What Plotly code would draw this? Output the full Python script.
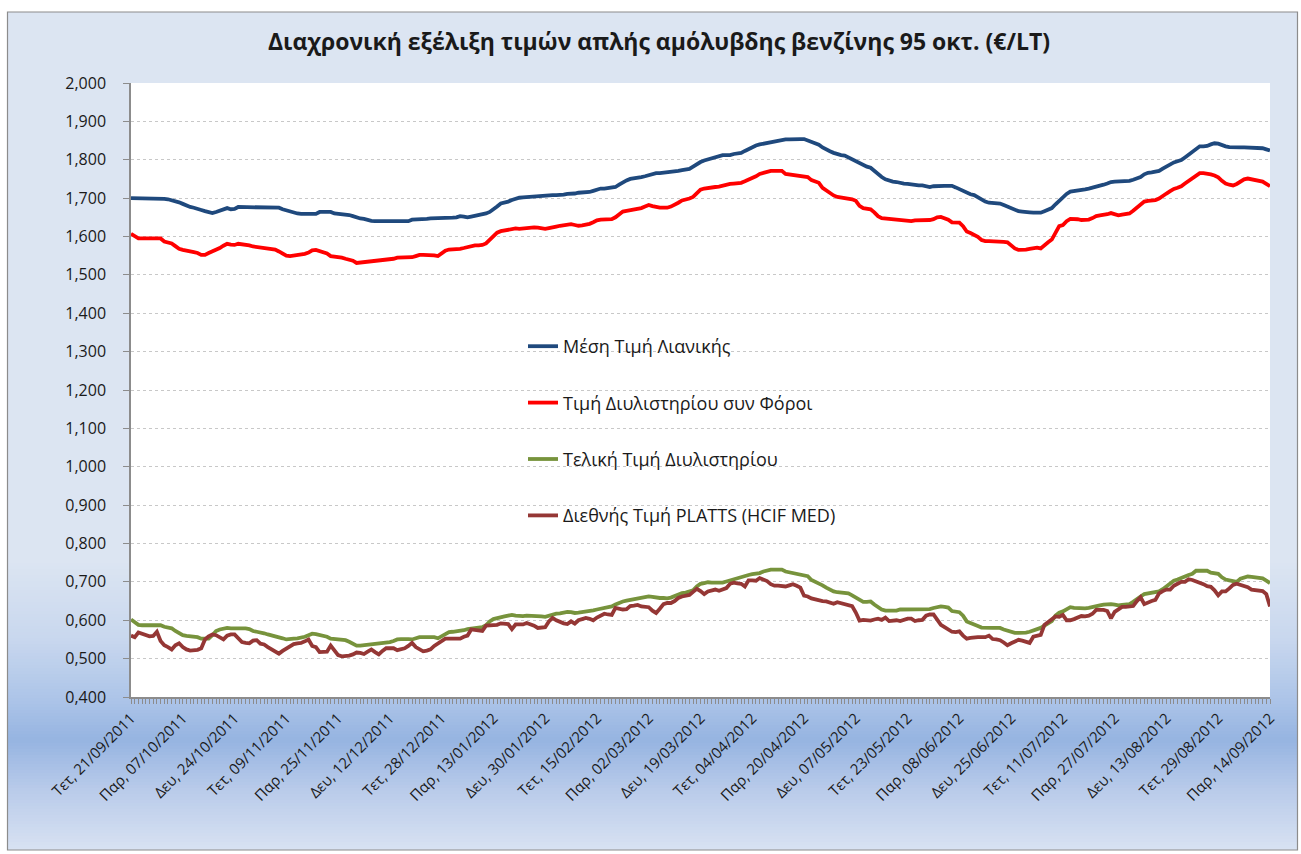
import pandas as pd
import plotly.graph_objects as go

# ---------------- DATA ----------------
start_date = "2011-09-21"
end_date = "2012-09-14"
greek_days = ["Δευ", "Τρι", "Τετ", "Πεμ", "Παρ", "Σαβ", "Κυρ"]
dates = pd.bdate_range(start_date, end_date, freq="C", weekmask="Mon Tue Wed Thu Fri Sat")
categories = [f"{greek_days[d.weekday()]}, {d:%d/%m/%Y}" for d in dates]
label_step = 14

retail = [
1.700,1.700,1.700,1.700,1.700,1.698,1.698,
1.698,1.698,1.698,1.697,1.695,1.692,1.689,
1.685,1.680,1.677,1.675,1.673,1.669,1.666,
1.663,1.661,1.664,1.667,1.670,1.674,1.671,
1.672,1.677,1.677,1.677,1.677,1.677,1.677,
1.677,1.677,1.677,1.677,1.677,1.675,1.671,
1.668,1.664,1.661,1.660,1.659,1.659,1.659,
1.659,1.659,1.664,1.664,1.664,1.664,1.660,
1.659,1.659,1.658,1.656,1.653,1.649,1.647,
1.646,1.643,1.641,1.640,1.640,1.640,1.640,
1.640,1.640,1.640,1.640,1.640,1.640,1.644,
1.644,1.644,1.646,1.646,1.647,1.647,1.647,
1.647,1.648,1.649,1.649,1.650,1.653,1.652,
1.650,1.652,1.654,1.655,1.656,1.660,1.664,
1.670,1.678,1.686,1.688,1.691,1.695,1.699,
1.701,1.702,1.703,1.704,1.705,1.706,1.707,
1.707,1.708,1.708,1.708,1.708,1.709,1.711,
1.711,1.712,1.714,1.714,1.715,1.716,1.719,
1.723,1.725,1.725,1.726,1.726,1.729,1.735,
1.741,1.746,1.750,1.751,1.753,1.755,1.757,
1.760,1.764,1.765,1.765,1.766,1.766,1.768,
1.769,1.771,1.773,1.774,1.776,1.782,1.789,
1.794,1.798,1.801,1.803,1.805,1.809,1.812,
1.812,1.812,1.815,1.816,1.818,1.823,1.828,
1.832,1.837,1.840,1.842,1.844,1.847,1.849,
1.850,1.851,1.853,1.853,1.854,1.854,1.854,
1.854,1.850,1.845,1.842,1.839,1.832,1.826,
1.822,1.818,1.814,1.812,1.811,1.806,1.802,
1.796,1.791,1.785,1.782,1.779,1.770,1.762,
1.755,1.749,1.745,1.743,1.742,1.739,1.738,
1.737,1.735,1.733,1.733,1.733,1.731,1.729,
1.731,1.732,1.732,1.732,1.732,1.732,1.728,
1.723,1.718,1.713,1.710,1.708,1.702,1.696,
1.691,1.688,1.687,1.686,1.686,1.682,1.678,
1.674,1.670,1.666,1.665,1.665,1.663,1.662,
1.662,1.662,1.666,1.670,1.674,1.684,1.694,
1.702,1.711,1.717,1.718,1.719,1.721,1.723,
1.725,1.727,1.730,1.732,1.735,1.738,1.742,
1.743,1.743,1.743,1.744,1.745,1.748,1.752,
1.755,1.762,1.766,1.767,1.768,1.771,1.777,
1.783,1.788,1.793,1.796,1.799,1.806,1.814,
1.821,1.829,1.835,1.835,1.836,1.840,1.843,
1.842,1.838,1.835,1.833,1.832,1.832,1.832,
1.832,1.832,1.832,1.832,1.832,1.830,1.827,
1.824]

refinery_tax = [
1.607,1.600,1.595,1.595,1.595,1.595,1.595,
1.595,1.595,1.587,1.584,1.582,1.575,1.568,
1.565,1.562,1.561,1.559,1.557,1.552,1.552,
1.557,1.561,1.565,1.570,1.576,1.581,1.579,
1.578,1.581,1.580,1.578,1.577,1.574,1.573,
1.572,1.570,1.568,1.567,1.566,1.561,1.555,
1.550,1.549,1.550,1.551,1.552,1.555,1.558,
1.564,1.565,1.562,1.559,1.556,1.549,1.548,
1.547,1.545,1.542,1.540,1.537,1.531,1.532,
1.534,1.535,1.535,1.536,1.537,1.538,1.538,
1.540,1.542,1.545,1.545,1.546,1.546,1.546,
1.549,1.552,1.552,1.552,1.551,1.551,1.549,
1.556,1.563,1.566,1.566,1.567,1.568,1.570,
1.573,1.576,1.577,1.577,1.578,1.582,1.592,
1.603,1.610,1.614,1.616,1.618,1.621,1.621,
1.620,1.621,1.623,1.623,1.624,1.623,1.621,
1.620,1.622,1.625,1.626,1.628,1.630,1.632,
1.632,1.630,1.628,1.629,1.630,1.633,1.637,
1.642,1.644,1.644,1.644,1.645,1.650,1.658,
1.665,1.667,1.669,1.670,1.671,1.674,1.678,
1.682,1.679,1.676,1.675,1.675,1.675,1.678,
1.682,1.688,1.694,1.696,1.699,1.703,1.714,
1.722,1.725,1.727,1.728,1.729,1.730,1.733,
1.736,1.737,1.738,1.739,1.740,1.744,1.748,
1.753,1.757,1.763,1.766,1.769,1.771,1.771,
1.771,1.771,1.763,1.762,1.760,1.759,1.758,
1.757,1.755,1.747,1.744,1.740,1.727,1.720,
1.714,1.707,1.703,1.702,1.701,1.700,1.697,
1.693,1.680,1.674,1.673,1.671,1.663,1.653,
1.648,1.647,1.645,1.645,1.644,1.642,1.640,
1.639,1.640,1.642,1.642,1.642,1.643,1.643,
1.645,1.650,1.651,1.648,1.644,1.637,1.636,
1.636,1.627,1.613,1.609,1.605,1.599,1.591,
1.588,1.588,1.588,1.588,1.587,1.586,1.585,
1.577,1.569,1.565,1.565,1.566,1.568,1.569,
1.571,1.569,1.578,1.585,1.592,1.611,1.627,
1.630,1.640,1.646,1.646,1.645,1.643,1.643,
1.644,1.648,1.653,1.655,1.656,1.658,1.661,
1.658,1.655,1.657,1.658,1.660,1.667,1.676,
1.685,1.691,1.693,1.694,1.695,1.699,1.707,
1.712,1.718,1.724,1.727,1.731,1.738,1.745,
1.752,1.758,1.765,1.765,1.764,1.762,1.759,
1.754,1.745,1.738,1.735,1.733,1.737,1.742,
1.749,1.751,1.749,1.748,1.747,1.743,1.737,
1.731]

refinery_final = [
0.602,0.595,0.588,0.587,0.587,0.587,0.587,
0.587,0.587,0.583,0.581,0.579,0.572,0.565,
0.561,0.559,0.558,0.557,0.556,0.552,0.552,
0.552,0.561,0.572,0.576,0.579,0.580,0.579,
0.579,0.580,0.580,0.579,0.577,0.572,0.570,
0.569,0.566,0.563,0.561,0.559,0.556,0.553,
0.550,0.550,0.552,0.553,0.554,0.557,0.561,
0.565,0.564,0.562,0.560,0.557,0.552,0.551,
0.550,0.549,0.548,0.544,0.540,0.534,0.534,
0.535,0.537,0.539,0.539,0.539,0.540,0.541,
0.543,0.546,0.550,0.551,0.552,0.551,0.550,
0.553,0.556,0.556,0.556,0.556,0.556,0.553,
0.558,0.565,0.569,0.570,0.571,0.572,0.574,
0.577,0.578,0.580,0.581,0.582,0.587,0.597,
0.603,0.606,0.609,0.610,0.612,0.614,0.612,
0.611,0.611,0.612,0.612,0.612,0.611,0.610,
0.609,0.612,0.616,0.617,0.618,0.620,0.622,
0.621,0.619,0.620,0.621,0.622,0.624,0.626,
0.628,0.630,0.631,0.633,0.636,0.641,0.646,
0.649,0.651,0.653,0.655,0.656,0.658,0.660,
0.662,0.661,0.659,0.658,0.658,0.657,0.659,
0.663,0.667,0.671,0.672,0.674,0.678,0.688,
0.695,0.697,0.699,0.698,0.698,0.696,0.698,
0.701,0.704,0.708,0.710,0.713,0.716,0.718,
0.720,0.721,0.723,0.727,0.730,0.732,0.732,
0.732,0.732,0.727,0.725,0.723,0.720,0.718,
0.717,0.715,0.705,0.701,0.697,0.691,0.685,
0.679,0.675,0.673,0.672,0.671,0.670,0.665,
0.659,0.654,0.648,0.648,0.649,0.641,0.633,
0.628,0.625,0.625,0.625,0.625,0.628,0.628,
0.627,0.628,0.629,0.629,0.629,0.629,0.629,
0.632,0.635,0.636,0.635,0.633,0.624,0.622,
0.621,0.612,0.597,0.593,0.590,0.585,0.581,
0.580,0.580,0.580,0.580,0.580,0.576,0.573,
0.569,0.567,0.567,0.567,0.568,0.570,0.573,
0.577,0.580,0.586,0.592,0.598,0.612,0.620,
0.623,0.630,0.634,0.632,0.631,0.630,0.631,
0.632,0.635,0.638,0.639,0.641,0.642,0.642,
0.641,0.639,0.640,0.641,0.642,0.648,0.656,
0.662,0.668,0.670,0.671,0.673,0.675,0.681,
0.688,0.696,0.703,0.706,0.709,0.714,0.718,
0.721,0.729,0.729,0.729,0.729,0.724,0.722,
0.721,0.712,0.706,0.704,0.703,0.700,0.708,
0.712,0.714,0.713,0.712,0.712,0.709,0.703,
0.697]

platts = [
0.560,0.556,0.568,0.564,0.560,0.558,0.559,
0.570,0.546,0.535,0.530,0.524,0.535,0.540,
0.530,0.524,0.521,0.522,0.523,0.527,0.550,
0.558,0.563,0.561,0.556,0.550,0.560,0.563,
0.563,0.552,0.543,0.541,0.540,0.547,0.548,
0.539,0.537,0.530,0.525,0.520,0.513,0.520,
0.526,0.530,0.538,0.540,0.541,0.545,0.550,
0.533,0.530,0.517,0.517,0.518,0.534,0.520,
0.509,0.506,0.506,0.508,0.511,0.516,0.515,
0.512,0.518,0.524,0.517,0.511,0.520,0.527,
0.527,0.527,0.522,0.524,0.527,0.533,0.541,
0.530,0.525,0.519,0.521,0.524,0.533,0.540,
0.546,0.552,0.552,0.552,0.552,0.552,0.557,
0.560,0.576,0.574,0.573,0.572,0.586,0.587,
0.587,0.588,0.592,0.591,0.590,0.577,0.589,
0.589,0.589,0.593,0.590,0.586,0.580,0.581,
0.582,0.597,0.606,0.600,0.595,0.592,0.590,
0.597,0.591,0.600,0.603,0.606,0.604,0.600,
0.607,0.612,0.617,0.615,0.614,0.632,0.630,
0.628,0.629,0.637,0.638,0.640,0.636,0.636,
0.634,0.625,0.619,0.630,0.642,0.645,0.645,
0.650,0.658,0.662,0.664,0.666,0.674,0.682,
0.676,0.668,0.675,0.678,0.680,0.677,0.680,
0.684,0.695,0.698,0.696,0.695,0.688,0.704,
0.704,0.703,0.710,0.706,0.702,0.694,0.690,
0.690,0.690,0.688,0.691,0.694,0.690,0.685,
0.664,0.662,0.657,0.654,0.651,0.650,0.649,
0.646,0.643,0.647,0.645,0.643,0.639,0.637,
0.620,0.599,0.601,0.600,0.599,0.602,0.604,
0.601,0.607,0.598,0.599,0.600,0.598,0.602,
0.604,0.604,0.598,0.600,0.601,0.612,0.615,
0.615,0.603,0.588,0.582,0.576,0.570,0.569,
0.571,0.560,0.552,0.554,0.556,0.556,0.556,
0.556,0.560,0.551,0.550,0.548,0.542,0.535,
0.540,0.545,0.549,0.547,0.545,0.541,0.557,
0.560,0.562,0.588,0.596,0.605,0.610,0.609,
0.614,0.600,0.600,0.603,0.607,0.611,0.610,
0.612,0.617,0.627,0.627,0.627,0.624,0.605,
0.622,0.630,0.635,0.635,0.635,0.637,0.650,
0.660,0.642,0.647,0.650,0.653,0.670,0.676,
0.680,0.680,0.690,0.695,0.700,0.700,0.707,
0.705,0.702,0.698,0.694,0.689,0.687,0.678,
0.665,0.675,0.675,0.683,0.692,0.695,0.692,
0.688,0.686,0.680,0.679,0.678,0.676,0.668,
0.636]

series_names = [
    "Μέση Τιμή Λιανικής",
    "Τιμή Διυλιστηρίου συν Φόροι",
    "Τελική Τιμή Διυλιστηρίου",
    "Διεθνής Τιμή PLATTS (HCIF MED)",
]
series_values = [retail, refinery_tax, refinery_final, platts]
series_colors = ["#1F497D", "#FF0000", "#77933C", "#953735"]

title_text = "Διαχρονική εξέλιξη τιμών απλής αμόλυβδης βενζίνης 95 οκτ. (€/LT)"

for nm, vals in zip(series_names, series_values):
    if len(vals) != len(categories):
        raise ValueError(f"{nm}: {len(vals)} values vs {len(categories)} categories")

# ---------------- LAYOUT GEOMETRY ----------------
W, H = 1301, 854
L, R, T, B = 131, 31, 83, 157
PW, PH = W - L - R, H - T - B
FONT = "Open Sans"


def px_x(px):
    return (px - L) / PW


def px_y(py):
    return (H - B - py) / PH


fig = go.Figure()
for nm, vals, col in zip(series_names, series_values, series_colors):
    fig.add_trace(go.Scatter(
        x=categories, y=vals, name=nm, mode="lines",
        line=dict(color=col, width=3.8),
        legendgroup=nm,
    ))

# background: light blue panel with a blue gradient band at the bottom
shapes = []
stops = [(12, (220, 229, 242)), (560, (220, 229, 242)), (640, (200, 215, 238)),
         (700, (172, 196, 232)), (740, (150, 180, 225)), (790, (185, 203, 234)),
         (850, (216, 226, 242))]


def color_at(py):
    for (y0, c0), (y1, c1) in zip(stops[:-1], stops[1:]):
        if y0 <= py <= y1:
            t = (py - y0) / (y1 - y0)
            return "rgb(%d,%d,%d)" % tuple(round(a + (b - a) * t) for a, b in zip(c0, c1))
    return "rgb(%d,%d,%d)" % stops[-1][1]


shapes.append(dict(type="rect", xref="paper", yref="paper", layer="below",
                   x0=px_x(7.5), x1=px_x(1297.5), y0=px_y(560), y1=px_y(12),
                   fillcolor=color_at(12), line=dict(width=0)))
step = 3
py = 560
while py < 850:
    shapes.append(dict(type="rect", xref="paper", yref="paper", layer="below",
                       x0=px_x(7.5), x1=px_x(1297.5), y0=px_y(min(py + step, 850)), y1=px_y(py),
                       fillcolor=color_at(py + step / 2), line=dict(width=0)))
    py += step
# white plot area
shapes.append(dict(type="rect", xref="paper", yref="paper", layer="below",
                   x0=0, x1=1, y0=0, y1=1, fillcolor="white", line=dict(width=0)))
# outer border
shapes.append(dict(type="rect", xref="paper", yref="paper", layer="below",
                   x0=px_x(7.5), x1=px_x(1297.5), y0=px_y(850), y1=px_y(12),
                   fillcolor="rgba(0,0,0,0)", line=dict(color="#8C8C8C", width=1.2)))

tickvals = categories
ticktext = [c if i % label_step == 0 else "" for i, c in enumerate(categories)]

fig.update_layout(
    width=W, height=H,
    margin=dict(l=L, r=R, t=T, b=B, autoexpand=False),
    paper_bgcolor="white",
    plot_bgcolor="white",
    separators=",.",
    font=dict(family=FONT, color="#1a1a1a"),
    title=dict(text="<b>" + title_text + "</b>", x=659 / W, xref="container", xanchor="center",
               y=1 - 42 / H, yanchor="middle", font=dict(family=FONT, size=23, color="#1a1a1a")),
    shapes=shapes,
    showlegend=True,
    legend=dict(x=px_x(523), y=px_y(328), xanchor="left", yanchor="top",
                bgcolor="rgba(0,0,0,0)", font=dict(family=FONT, size=18, color="#1a1a1a"),
                tracegroupgap=30, itemwidth=30),
    xaxis=dict(
        type="category", tickmode="array", tickvals=tickvals, ticktext=ticktext,
        tickangle=-45, ticks="outside", ticklen=5, tickcolor="#8C8C8C", tickwidth=1,
        showline=True, linecolor="#8C8C8C", linewidth=1.5,
        showgrid=False, zeroline=False,
        range=[0, len(categories) - 1],
        tickfont=dict(family=FONT, size=15, color="#1a1a1a"),
    ),
    yaxis=dict(
        range=[0.4, 2.0], dtick=0.1, tick0=0.4, tickformat=".3f",
        ticks="outside", ticklen=6, tickcolor="#8C8C8C",
        showline=True, linecolor="#8C8C8C", linewidth=1.5,
        showgrid=True, gridcolor="#C8C8C8", griddash="dot", gridwidth=1,
        zeroline=False,
        tickfont=dict(family=FONT, size=16, color="#1a1a1a"),
        ticklabelstandoff=14,
    ),
)

fig.write_html("out.html", config={"displayModeBar": False},
               post_script="document.body.style.margin='0px';document.body.style.overflow='hidden';")
